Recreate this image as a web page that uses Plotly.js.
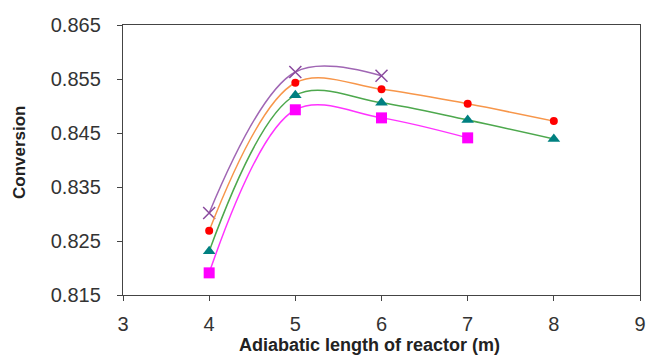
<!DOCTYPE html>
<html><head><meta charset="utf-8">
<script src="https://cdn.plot.ly/plotly-3.0.1.min.js"></script>
<style>body{margin:0;background:#fff}#c{width:650px;height:361px}</style>
</head><body><div id="c"></div>
<script>
const lengthsX = [4, 5, 6];
const seriesX = [0.8302, 0.8563, 0.8556];
const lengthsCircle = [4, 5, 6, 7, 8];
const seriesCircle = [0.8269, 0.8543, 0.8531, 0.8504, 0.8472];
const lengthsTri = [4, 5, 6, 7, 8];
const seriesTri = [0.8231, 0.8520, 0.8506, 0.8474, 0.8439];
const lengthsSq = [4, 5, 6, 7];
const seriesSq = [0.8191, 0.8493, 0.8478, 0.8441];
const xTicks = [3, 4, 5, 6, 7, 8, 9];
const yTicks = [0.815, 0.825, 0.835, 0.845, 0.855, 0.865];
const xTitle = 'Adiabatic length of reactor (m)';
const yTitle = 'Conversion';

function tr(x, y, lineColor, sym, mColor, mSize, open) {
  return {
    x: x, y: y, mode: 'lines+markers', type: 'scatter',
    line: {color: lineColor, width: 1.5, shape: 'spline', smoothing: 1.0},
    marker: open ? {symbol: sym, size: mSize, line: {color: mColor, width: 1.5}, color: mColor}
                 : {symbol: sym, size: mSize, color: mColor},
    showlegend: false, hoverinfo: 'x+y'
  };
}
const data = [
  tr(lengthsX, seriesX, '#A066B4', 'x-thin-open', '#8A4A9E', 12, true),
  tr(lengthsCircle, seriesCircle, '#F7964A', 'circle', '#FF0000', 8),
  tr(lengthsTri, seriesTri, '#4DA84D', 'triangle-up', '#008080', 11),
  tr(lengthsSq, seriesSq, '#FF33FF', 'square', '#FF00FF', 11)
];
const axisCommon = {
  showline: true, linecolor: '#444', linewidth: 1.2, mirror: true,
  ticks: 'outside', ticklen: 5, tickcolor: '#444', showgrid: false, zeroline: false,
  tickfont: {family: 'Liberation Sans, Arial', size: 20, color: '#333'}
};
const titleFont = {family: 'Liberation Sans, Arial', color: '#222', weight: 'bold'};
const layout = {
  width: 650, height: 361,
  margin: {l: 123, r: 10, t: 25, b: 66},
  paper_bgcolor: '#fff', plot_bgcolor: '#fff',
  xaxis: Object.assign({}, axisCommon, {range: [3, 9], tickvals: xTicks, ticktext: xTicks.map(String), ticklabelstandoff: 6}),
  yaxis: Object.assign({}, axisCommon, {range: [0.815, 0.865], tickvals: yTicks, ticktext: yTicks.map(v => v.toFixed(3)), ticklabelstandoff: 12}),
  annotations: [
    {text: xTitle, xref: 'paper', yref: 'paper', x: 0.476, y: -0.185, xanchor: 'center', yanchor: 'middle',
     showarrow: false, font: Object.assign({size: 18}, titleFont)},
    {text: yTitle, xref: 'paper', yref: 'paper', x: -0.199, y: 0.53, xanchor: 'center', yanchor: 'middle',
     textangle: -90, showarrow: false, font: Object.assign({size: 17}, titleFont)}
  ]
};
Plotly.newPlot('c', data, layout, {displayModeBar: false, staticPlot: true});
</script></body></html>
